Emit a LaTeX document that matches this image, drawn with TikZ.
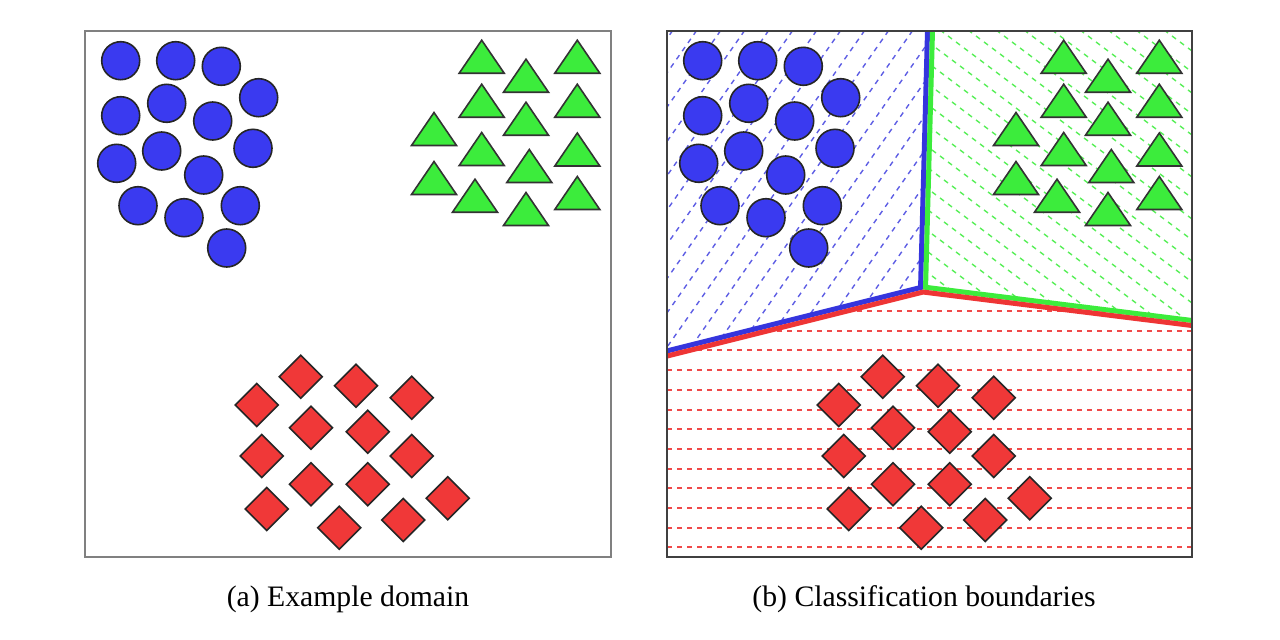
\documentclass[tikz,border=0pt]{standalone}
\usepackage{fontspec}
\setmainfont{Liberation Serif}

\definecolor{dotblue}{HTML}{3A3AF0}
\definecolor{trigreen}{HTML}{3CEC3C}
\definecolor{gemred}{HTML}{F03838}
\definecolor{lineblue}{HTML}{3535DD}
\definecolor{linegreen}{HTML}{3CEC3C}
\definecolor{linered}{HTML}{EE3535}

\tikzset{
  dot/.style={fill=dotblue, draw=black!85, line width=1.6pt},
  tri/.style={fill=trigreen, draw=black!80, line width=1.6pt},
  gem/.style={fill=gemred, draw=black!85, line width=1.6pt},
  hatch/.style={line width=1.4pt, dash pattern=on 5pt off 5pt},
  edge/.style={line width=10pt, line join=miter},
  caption/.style={anchor=base, font=\fontsize{29.7}{34}\selectfont}
}

% the sample points, same in both panels
\newcommand{\drawsamples}{%
  \foreach \cx/\cy in {120.7/60.7, 175.7/60.7, 221.3/66.3, 258.7/97.7, 120.7/115.7,
      166.7/103.3, 212.7/121, 116.7/163.3, 161.7/151, 253/148.3, 203.7/175,
      138/205.7, 184/217.7, 240.3/205.7, 226.7/248}
    \filldraw[dot] (\cx,\cy) circle (19);
  \foreach \tx/\ty in {481.7/56.7, 526/75.7, 577.3/56.7, 481.7/100.7, 526/118.7,
      577.3/100.7, 434/129, 481.7/149, 529.3/166, 577.3/149.5, 434/178,
      475/195.7, 526/209, 577.3/193}
    \filldraw[tri] (\tx,\ty) +(0,-16.5) -- +(22.5,16.5) -- +(-22.5,16.5) -- cycle;
  \foreach \gx/\gy in {300.7/376.7, 356/385.7, 411.7/397.7, 256.7/405, 311/427.7,
      367.7/431.7, 261.7/456, 411.7/456, 311/484.3, 367.7/484.3, 266.7/509,
      447.7/498.3, 339.3/527.7, 403.3/520}
    \filldraw[gem] (\gx,\gy) +(-21.5,0) -- +(0,-21.5) -- +(21.5,0) -- +(0,21.5) -- cycle;
}

\begin{document}
\begin{tikzpicture}[x=1pt,y=-1pt]
\useasboundingbox (0,0) rectangle (1280,640);

% (a) domain
\drawsamples
\draw[black!50, line width=2.5pt] (85,31) rectangle (611,557);

% (b) regions
\coordinate (top) at (930,31);
\coordinate (mid) at (923,289.5);
\coordinate (west) at (667,353.5);
\coordinate (east) at (1192,323);

\begin{scope}
  \clip (667,31) -- (top) -- (mid) -- (west) -- cycle;
  \foreach \k in {0,...,22}
    \draw[hatch, lineblue!80] (250+\k*24,600) -- ++(420,-600);
  \draw[edge, lineblue] (top) -- (mid) -- (west);
\end{scope}

\begin{scope}
  \clip (top) -- (1192,31) -- (east) -- (mid) -- cycle;
  \foreach \k in {0,...,26}
    \draw[hatch, linegreen!85] (480+\k*28,0) -- ++(800,600);
  \draw[edge, linegreen] (top) -- (mid) -- (east);
\end{scope}

\begin{scope}
  \clip (west) -- (mid) -- (east) -- (1192,557) -- (667,557) -- cycle;
  \foreach \k in {0,...,12}
    \draw[hatch, line width=2pt, linered!90] (667,311+\k*19.7) -- (1192,311+\k*19.7);
  \draw[edge, linered] (west) -- (mid) -- (east);
\end{scope}

\begin{scope}[shift={(582,0)}]
  \drawsamples
\end{scope}
\draw[black!75, line width=2pt] (667,31) rectangle (1192,557);

\node[caption] (capa) at (348,606) {(a) Example domain};
\node[caption] (capb) at (924,606) {(b) Classification boundaries};
\end{tikzpicture}
\end{document}
